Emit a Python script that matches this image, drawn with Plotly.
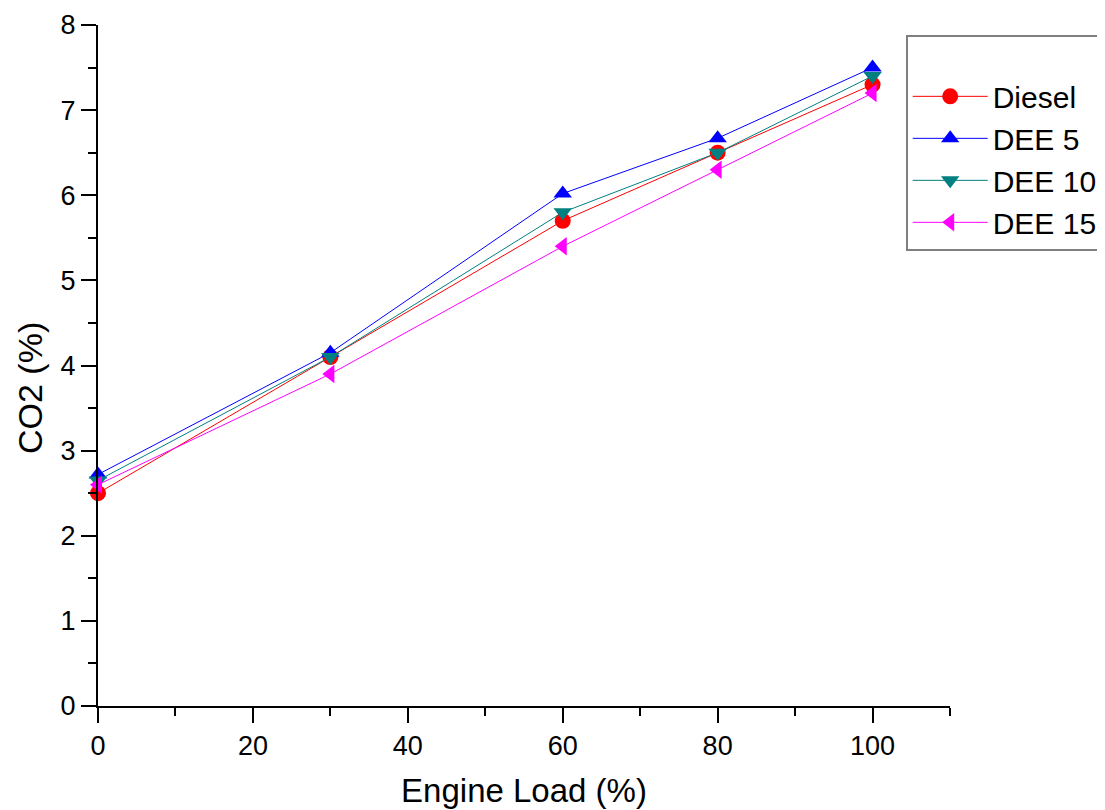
import plotly.graph_objects as go

load = [0, 30, 60, 80, 100]
diesel = [2.5, 4.1, 5.7, 6.5, 7.3]
dee5 = [2.72, 4.15, 6.02, 6.67, 7.5]
dee10 = [2.65, 4.1, 5.8, 6.5, 7.4]
dee15 = [2.6, 3.9, 5.4, 6.3, 7.2]

series = [
    ("Diesel", diesel, "#FF0000", "circle"),
    ("DEE 5", dee5, "#0000FF", "triangle-up"),
    ("DEE 10", dee10, "#008080", "triangle-down"),
    ("DEE 15", dee15, "#FF00FF", "triangle-left"),
]

fig = go.Figure()
for name, vals, col, sym in series:
    fig.add_trace(go.Scatter(
        x=load, y=vals, name=name, mode="lines+markers",
        line=dict(color=col, width=1),
        marker=dict(color=col, symbol=sym, size=16, line=dict(width=0)),
        cliponaxis=False,
    ))

font = "Arial, Liberation Sans, sans-serif"
fig.update_layout(
    width=1105, height=810,
    paper_bgcolor="white", plot_bgcolor="white",
    margin=dict(l=90, r=163, t=17, b=112, autoexpand=False),
    font=dict(family=font, color="black"),
    showlegend=True,
    legend=dict(
        x=0.948, y=0.986, xanchor="left", yanchor="top",
        bgcolor="white", bordercolor="#7f7f7f", borderwidth=2,
        font=dict(size=30, family=font),
        title=dict(text=" ", font=dict(size=26)),
        itemwidth=75, tracegroupgap=0,
    ),
    xaxis=dict(
        range=[0, 110], tickvals=[0, 20, 40, 60, 80, 100],
        showgrid=False, zeroline=False,
        showline=True, linecolor="black", linewidth=2,
        ticks="outside", ticklen=15, tickwidth=2, tickcolor="black",
        minor=dict(tickvals=[10, 30, 50, 70, 90, 110], ticks="outside", ticklen=8, tickwidth=2, tickcolor="black"),
        tickfont=dict(size=27),
        title=dict(text="Engine Load (%)", font=dict(size=33), standoff=18),
    ),
    yaxis=dict(
        range=[0, 8], dtick=1,
        showgrid=False, zeroline=False,
        showline=True, linecolor="black", linewidth=2,
        ticks="outside", ticklen=15, tickwidth=2, tickcolor="black",
        minor=dict(dtick=0.5, ticks="outside", ticklen=8, tickwidth=2, tickcolor="black"),
        tickfont=dict(size=27),
    ),
    annotations=[dict(
        text="CO2 (%)", textangle=-90, showarrow=False,
        xref="paper", yref="paper", x=-0.0798, y=0.467,
        xanchor="center", yanchor="middle",
        font=dict(size=34, family=font, color="black"),
    )],
)

fig.write_html("out.html")
